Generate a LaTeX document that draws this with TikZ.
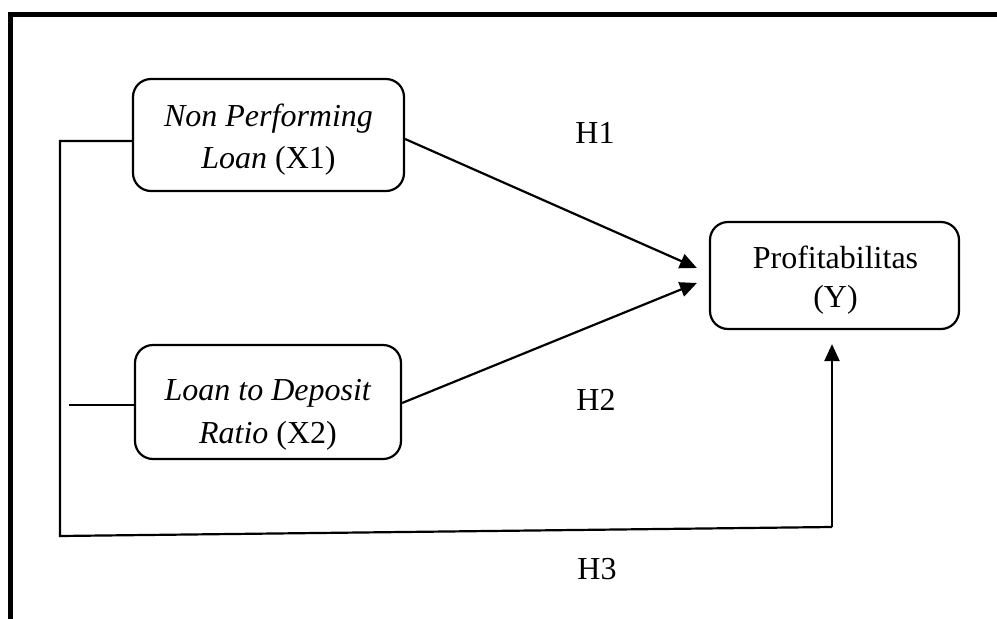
\documentclass[tikz,border=0pt]{standalone}
\usepackage{fontspec}
\setmainfont{Liberation Serif}
\usetikzlibrary{arrows.meta}
\begin{document}
\begin{tikzpicture}[x=1pt,y=-1pt,
  box/.style={draw,line width=2.2pt,rounded corners=18pt,inner sep=0pt},
  txt/.style={anchor=base,inner sep=0pt,font=\fontsize{32}{42}\selectfont},
  conn/.style={line width=2.2pt},
  arr/.style={line width=2.2pt,-{Triangle[length=17pt,width=15pt]}}]
\useasboundingbox (0,0) rectangle (997,619);
% frame
\draw[line width=5pt] (10.5,619) -- (10.5,14.5) -- (997,14.5);
% boxes
\node[box,minimum width=271pt,minimum height=112pt] (n1) at (268.5,135) {};
\node[box,minimum width=266pt,minimum height=114pt] (n2) at (268,402) {};
\node[box,minimum width=249pt,minimum height=107pt] (y) at (834.5,275.5) {};
% box texts
\node[txt] (n1a) at (268.5,126) {\textit{Non Performing}};
\node[txt] (n1b) at (268.5,168) {\textit{Loan} (X1)};
\node[txt] (n2a) at (268,400) {\textit{Loan to Deposit}};
\node[txt] (n2b) at (268,443) {\textit{Ratio} (X2)};
\node[txt] (ya) at (835.5,268.3) {Profitabilitas};
\node[txt] (yb) at (835.5,307.7) {(Y)};
% labels
\node[txt] (h1) at (595,143) {H1};
\node[txt] (h2) at (596,410) {H2};
\node[txt] (h3) at (597,579) {H3};
% coordinates
\coordinate (lt) at (60,141);
\coordinate (lb) at (60,536);
\coordinate (rb) at (832,527);
\coordinate (s2) at (69,405);
% connectors
\draw[arr] ([yshift=-4pt]n1.east) -- ([xshift=-12pt,yshift=7.5pt]y.west);
\draw[arr] ([yshift=-1pt]n2.east) -- ([xshift=-12pt,yshift=-7.5pt]y.west);
\draw[conn] (n1.west |- lt) -- (lt) -- (lb) -- (rb);
\draw[arr] (rb) -- ([xshift=-2.5pt,yshift=-14pt]y.south);
\draw[conn] (s2) -- (n2.west |- s2);
\end{tikzpicture}
\end{document}
